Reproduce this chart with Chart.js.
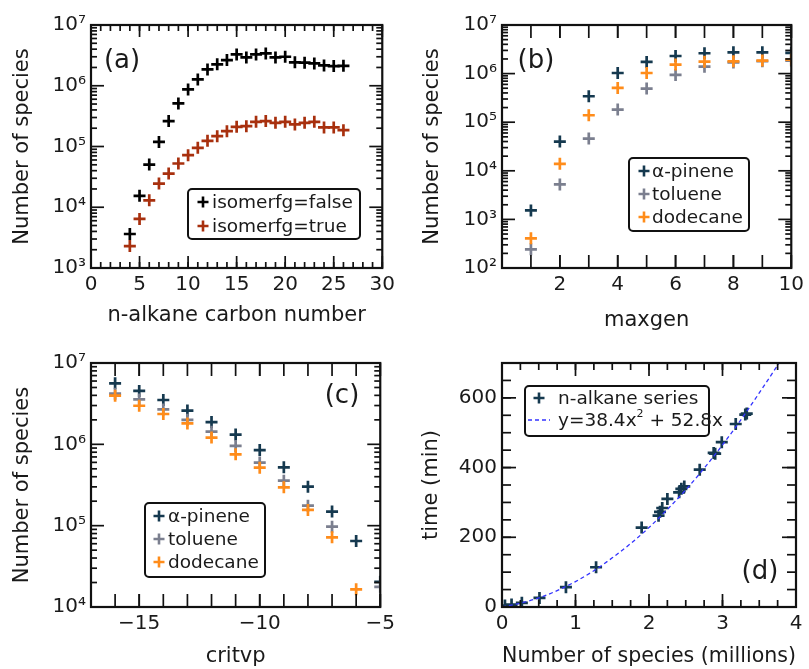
<!DOCTYPE html>
<html>
<head>
<meta charset="utf-8">
<script src="https://cdn.jsdelivr.net/npm/chart.js@4.4.1/dist/chart.umd.min.js"></script>
<style>
  html, body { margin: 0; padding: 0; background: #fff; }
  #fig { position: relative; width: 809px; height: 669px; overflow: hidden; background: #fff; }
  #fig canvas { position: absolute; }
</style>
</head>
<body>
<div id="fig">
  <canvas id="chartA" width="400" height="335" style="left:0;top:0"></canvas>
  <canvas id="chartB" width="409" height="335" style="left:400px;top:0"></canvas>
  <canvas id="chartC" width="400" height="334" style="left:0;top:335px"></canvas>
  <canvas id="chartD" width="409" height="334" style="left:400px;top:335px"></canvas>
</div>
<script>
// (a) species count vs n-alkane chain length
const carbonNumbers = [4, 5, 6, 7, 8, 9, 10, 11, 12, 13, 14, 15, 16, 17, 18, 19, 20, 21, 22, 23, 24, 25, 26];
const speciesIsomerFalse = [3630, 15400, 50500, 119000, 262000, 511000, 871000, 1270000, 1860000, 2250000, 2650000, 3280000,
  2930000, 3280000, 3410000, 2930000, 3000000, 2430000, 2400000, 2330000, 2160000, 2110000, 2130000];
const speciesIsomerTrue = [2300, 6430, 13000, 24500, 35900, 52500, 71900, 95000, 124000, 148000, 179000, 211000,
  216000, 255000, 262000, 245000, 255000, 231000, 245000, 255000, 206000, 206000, 186000];

// (b) species count vs maxgen
const maxgenValues = [1, 2, 3, 4, 5, 6, 7, 8, 9, 10];
const maxgenPinene = [1530, 40000, 342000, 1030000, 1740000, 2300000, 2620000, 2740000, 2740000, 2660000];
const maxgenToluene = [242, 5240, 46100, 182000, 492000, 940000, 1390000, 1700000, 1800000, 1850000];
const maxgenDodecane = [407, 13900, 139000, 507000, 1030000, 1530000, 1760000, 1790000, 1850000, 1940000];

// (c) species count vs critvp
const critvpValues = [-16, -15, -14, -13, -12, -11, -10, -9, -8, -7, -6, -5];
const critvpPinene = [5620000, 4530000, 3510000, 2600000, 1880000, 1320000, 850000, 521000, 302000, 149000, 64800, 20400];
const critvpToluene = [4200000, 3570000, 2690000, 2000000, 1430000, 955000, 596000, 357000, 176000, 97300, null, 17700];
const critvpDodecane = [3960000, 2980000, 2360000, 1810000, 1210000, 753000, 516000, 296000, 156000, 71900, 16500, null];

// (d) run time vs mechanism size
const speciesMillions = [0.04, 0.13, 0.27, 0.51, 0.87, 1.28, 1.9, 2.13, 2.15, 2.18, 2.25, 2.41, 2.44, 2.48, 2.69, 2.88, 2.9, 2.99, 3.18, 3.31, 3.33];
const runtimeMinutes = [4, 7, 12, 26, 57, 114, 228, 262, 273, 284, 310, 329, 339, 346, 394, 442, 440, 473, 525, 552, 555];
const fitX = [0, 0.25, 0.5, 0.75, 1, 1.25, 1.5, 1.75, 2, 2.25, 2.5, 2.75, 3, 3.25, 3.5, 3.77];
const fitY = [0, 11, 26, 47, 73, 104, 141, 182, 228, 280, 336, 398, 465, 537, 614, 700];

const FONT = "'DejaVu Sans', Verdana, sans-serif";
const TEXT = '#1a1a1a';
const SUP = { 2: '²', 3: '³', 4: '⁴', 5: '⁵', 6: '⁶', 7: '⁷' };

const pairs = (xs, ys) => xs.map((x, i) => ({ x: x, y: ys[i] })).filter(p => p.y !== null);

// ticks pointing inward on all four sides plus the frame
const frameTicks = {
  id: 'frameTicks',
  afterDatasetsDraw(chart, args, opts) {
    const { ctx, chartArea: { left, right, top, bottom } } = chart;
    ctx.save();
    ctx.strokeStyle = '#111';
    ctx.lineWidth = 1.7;
    const seg = (x1, y1, x2, y2) => { ctx.beginPath(); ctx.moveTo(x1, y1); ctx.lineTo(x2, y2); ctx.stroke(); };
    ['x', 'y'].forEach(id => {
      const scale = chart.scales[id];
      const o = opts[id];
      const marks = scale.ticks.map(t => [t.value, o.majorLen]);
      if (scale.type === 'logarithmic') {
        for (let e = Math.round(Math.log10(scale.min)); e < Math.round(Math.log10(scale.max)); e++) {
          for (let m = 2; m <= 9; m++) marks.push([m * Math.pow(10, e), o.minorLen]);
        }
      } else if (o.minorStep) {
        const n = Math.round((scale.max - scale.min) / o.minorStep);
        for (let i = 0; i <= n; i++) marks.push([scale.min + i * o.minorStep, o.minorLen]);
      }
      marks.forEach(([v, len]) => {
        const p = scale.getPixelForValue(v);
        if (id === 'x') {
          if (p < left - 0.5 || p > right + 0.5) return;
          seg(p, bottom, p, bottom - len);
          seg(p, top, p, top + len);
        } else {
          if (p < top - 0.5 || p > bottom + 0.5) return;
          seg(left, p, left + len, p);
          seg(right, p, right - len, p);
        }
      });
    });
    ctx.lineWidth = 2.2;
    ctx.strokeRect(left, top, right - left, bottom - top);
    ctx.restore();
  }
};

// text with a raised "²" drawn at a smaller size
function fillSupText(ctx, text, x, y, size) {
  const parts = text.split('²');
  let cx = x;
  parts.forEach((part, i) => {
    ctx.font = size + 'px ' + FONT;
    ctx.fillText(part, cx, y);
    cx += ctx.measureText(part).width;
    if (i < parts.length - 1) {
      ctx.font = Math.round(size * 0.62) + 'px ' + FONT;
      ctx.fillText('2', cx, y - size * 0.38);
      cx += ctx.measureText('2').width;
    }
  });
}

// framed legend placed inside the plot, plus the panel letter
const boxLegend = {
  id: 'boxLegend',
  afterDraw(chart, args, opts) {
    const ctx = chart.ctx;
    ctx.save();
    if (opts.tag) {
      ctx.font = '26px ' + FONT;
      ctx.fillStyle = TEXT;
      ctx.textAlign = 'center';
      ctx.textBaseline = 'middle';
      ctx.fillText(opts.tag.text, opts.tag.x, opts.tag.y);
    }
    const b = opts.box;
    ctx.fillStyle = '#fff';
    ctx.strokeStyle = '#111';
    ctx.lineWidth = 2;
    ctx.beginPath();
    ctx.roundRect(b.left, b.top, b.width, b.height, 4);
    ctx.fill();
    ctx.stroke();
    ctx.textAlign = 'left';
    ctx.textBaseline = 'middle';
    chart.data.datasets.slice().sort((p, q) => p.legendRank - q.legendRank).forEach((ds, i) => {
      const y = b.top + b.firstRow + i * b.rowHeight;
      const mx = b.left + b.markerX;
      ctx.strokeStyle = ds.borderColor;
      if (ds.showLine) {
        ctx.lineWidth = 1.3;
        ctx.setLineDash(ds.borderDash || []);
        ctx.beginPath();
        ctx.moveTo(mx - 11, y);
        ctx.lineTo(mx + 11, y);
        ctx.stroke();
        ctx.setLineDash([]);
      } else {
        ctx.lineWidth = 2.6;
        ctx.beginPath();
        ctx.moveTo(mx - 5.5, y); ctx.lineTo(mx + 5.5, y);
        ctx.moveTo(mx, y - 5.5); ctx.lineTo(mx, y + 5.5);
        ctx.stroke();
      }
      ctx.fillStyle = TEXT;
      fillSupText(ctx, ds.label, b.left + b.textX, y + 1, 18.5);
    });
    ctx.restore();
  }
};

Chart.register(frameTicks, boxLegend);

function crossSet(label, data, color, rank) {
  return {
    label: label, data: data, legendRank: rank, order: 10 - rank,
    showLine: false, pointStyle: 'cross', pointRadius: 6, pointHoverRadius: 6,
    pointBorderWidth: 2.7, borderColor: color, backgroundColor: color, clip: 0
  };
}

function axis(o) {
  return {
    type: o.type || 'linear', min: o.min, max: o.max, position: o.position,
    grid: { display: false, drawTicks: false },
    border: { display: false },
    title: { display: true, text: o.title, color: TEXT, font: { family: FONT, size: 21 }, padding: o.titlePad },
    ticks: {
      color: TEXT, font: { family: FONT, size: 20 }, padding: o.tickPad,
      autoSkip: false, maxRotation: 0,
      callback: o.log ? (v => '10' + SUP[Math.round(Math.log10(v))]) : (v => String(v).replace('-', '\u2212'))
    },
    afterBuildTicks: scale => { scale.ticks = o.labels.map(v => ({ value: v })); },
    afterFit: scale => {
      if (o.position === 'left') scale.width = o.size; else scale.height = o.size;
    }
  };
}

function makeChart(id, datasets, xOpts, yOpts, pad, ticksOpts, legendOpts) {
  return new Chart(document.getElementById(id), {
    type: 'scatter',
    data: { datasets: datasets },
    options: {
      responsive: false,
      animation: false,
      events: [],
      layout: { padding: pad },
      scales: { x: axis(xOpts), y: axis(yOpts) },
      plugins: {
        legend: { display: false },
        tooltip: { enabled: false },
        frameTicks: ticksOpts,
        boxLegend: legendOpts
      }
    }
  });
}

// (a)
makeChart('chartA', [
    crossSet('isomerfg=false', pairs(carbonNumbers, speciesIsomerFalse), '#000000', 0),
    crossSet('isomerfg=true', pairs(carbonNumbers, speciesIsomerTrue), '#a8300e', 1)
  ],
  { position: 'bottom', min: 0, max: 30, labels: [0, 5, 10, 15, 20, 25, 30], title: 'n-alkane carbon number', size: 67, tickPad: 5, titlePad: { top: 0, bottom: 7 } },
  { position: 'left', type: 'logarithmic', log: true, min: 1e3, max: 1e7, labels: [1e3, 1e4, 1e5, 1e6, 1e7], title: 'Number of species', size: 91, tickPad: 5, titlePad: { top: 10, bottom: 0 } },
  { top: 25, right: 14, left: 0, bottom: 0 },
  { x: { majorLen: 12, minorLen: 6, minorStep: 1 }, y: { majorLen: 13, minorLen: 6 } },
  { tag: { text: '(a)', x: 122, y: 61 }, box: { left: 188, top: 189, width: 172, height: 50, firstRow: 13, rowHeight: 24, markerX: 15, textX: 24 } }
);

// (b)
makeChart('chartB', [
    crossSet('α-pinene', pairs(maxgenValues, maxgenPinene), '#15394f', 0),
    crossSet('toluene', pairs(maxgenValues, maxgenToluene), '#7b7f8f', 1),
    crossSet('dodecane', pairs(maxgenValues, maxgenDodecane), '#ff8c1a', 2)
  ],
  { position: 'bottom', min: 0, max: 10, labels: [2, 4, 6, 8, 10], title: 'maxgen', size: 67, tickPad: 5, titlePad: { top: 0, bottom: 2 } },
  { position: 'left', type: 'logarithmic', log: true, min: 1e2, max: 1e7, labels: [1e2, 1e3, 1e4, 1e5, 1e6, 1e7], title: 'Number of species', size: 102, tickPad: 5, titlePad: { top: 20, bottom: 0 } },
  { top: 25, right: 13, left: 0, bottom: 0 },
  { x: { majorLen: 13, minorLen: 13, minorStep: 1 }, y: { majorLen: 13, minorLen: 6 } },
  { tag: { text: '(b)', x: 136, y: 61 }, box: { left: 229, top: 158, width: 120, height: 73, firstRow: 13, rowHeight: 23, markerX: 15, textX: 23 } }
);

// (c)
makeChart('chartC', [
    crossSet('α-pinene', pairs(critvpValues, critvpPinene), '#15394f', 0),
    crossSet('toluene', pairs(critvpValues, critvpToluene), '#7b7f8f', 1),
    crossSet('dodecane', pairs(critvpValues, critvpDodecane), '#ff8c1a', 2)
  ],
  { position: 'bottom', min: -17, max: -5, labels: [-15, -10, -5], title: 'critvp', size: 62, tickPad: 5, titlePad: { top: 0, bottom: 0 } },
  { position: 'left', type: 'logarithmic', log: true, min: 1e4, max: 1e7, labels: [1e4, 1e5, 1e6, 1e7], title: 'Number of species', size: 91, tickPad: 5, titlePad: { top: 10, bottom: 0 } },
  { top: 28, right: 14, left: 0, bottom: 0 },
  { x: { majorLen: 13, minorLen: 13, minorStep: 1 }, y: { majorLen: 13, minorLen: 6 } },
  { tag: { text: '(c)', x: 342, y: 61 }, box: { left: 145, top: 168, width: 120, height: 74, firstRow: 13, rowHeight: 23, markerX: 14, textX: 23 } }
);

// (d)
const fitSet = {
  label: 'y=38.4x² + 52.8x', data: pairs(fitX, fitY), legendRank: 1, order: 5,
  showLine: true, borderColor: '#3333ff', borderWidth: 1.3, borderDash: [4, 3],
  pointRadius: 0, pointHoverRadius: 0, cubicInterpolationMode: 'monotone', fill: false, clip: 0
};
makeChart('chartD', [
    crossSet('n-alkane series', pairs(speciesMillions, runtimeMinutes), '#15394f', 0),
    fitSet
  ],
  { position: 'bottom', min: 0, max: 4, labels: [0, 1, 2, 3, 4], title: 'Number of species (millions)', size: 62, tickPad: 5, titlePad: { top: 0, bottom: 0 } },
  { position: 'left', min: 0, max: 700, labels: [0, 200, 400, 600], title: 'time (min)', size: 102, tickPad: 5, titlePad: { top: 19, bottom: 0 } },
  { top: 28, right: 13, left: 0, bottom: 0 },
  { x: { majorLen: 13, minorLen: 7, minorStep: 0.25 }, y: { majorLen: 14, minorLen: 9, minorStep: 50 } },
  { tag: { text: '(d)', x: 360, y: 237 }, box: { left: 125, top: 51, width: 184, height: 50, firstRow: 12, rowHeight: 22, markerX: 14, textX: 33 } }
);
</script>
</body>
</html>
